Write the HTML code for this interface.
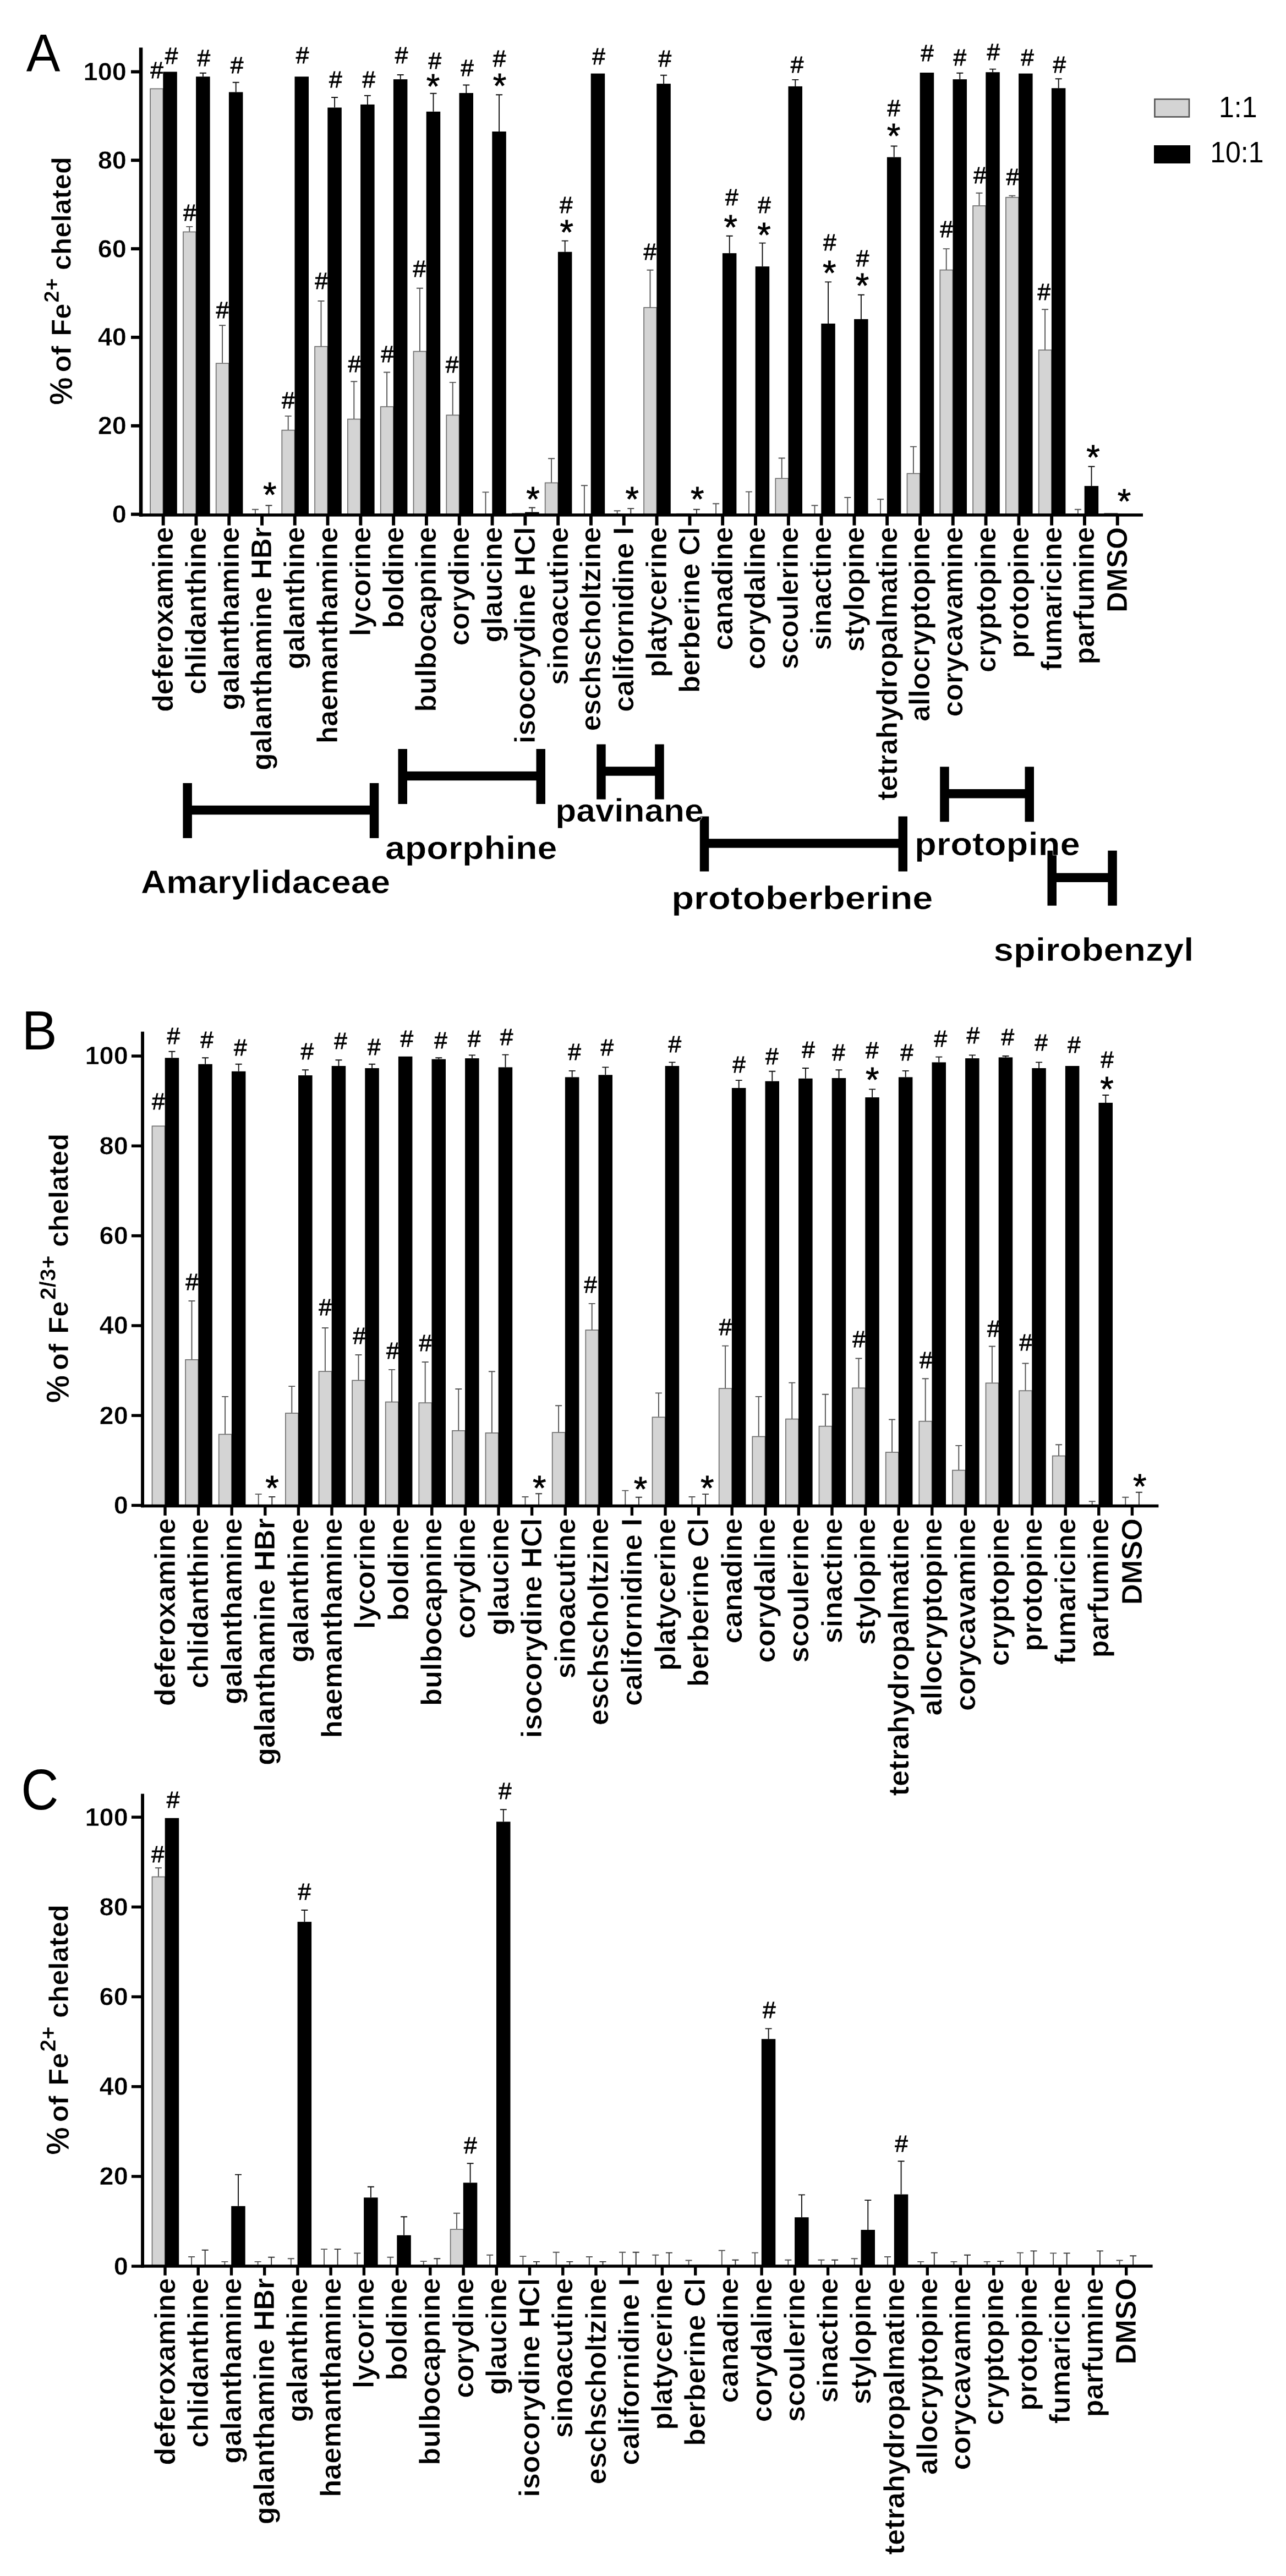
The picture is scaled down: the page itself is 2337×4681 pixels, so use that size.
<!DOCTYPE html>
<html><head><meta charset="utf-8"><title>Figure</title>
<style>html,body{margin:0;padding:0;background:#fff}svg{display:block;filter:blur(0.75px)}text{font-family:'Liberation Sans', sans-serif;fill:#000;font-kerning:none}.b{font-weight:bold;stroke:#fff;stroke-width:0.6px;stroke-linejoin:round}.h{stroke:#000;stroke-width:.8px}</style></head><body>
<svg width="2337" height="4681" viewBox="0 0 2337 4681">
<rect width="2337" height="4681" fill="#fff"/>
<rect x="273.1" y="161.3" width="23.2" height="774.6" fill="#d4d4d4" stroke="#707070" stroke-width="1.7"/>
<rect x="296.3" y="130.4" width="25.5" height="805.5" fill="#000"/>
<rect x="332.9" y="421.4" width="23.2" height="514.5" fill="#d4d4d4" stroke="#707070" stroke-width="1.7"/>
<rect x="356.1" y="139.2" width="25.5" height="796.7" fill="#000"/>
<rect x="392.7" y="660.3" width="23.2" height="275.6" fill="#d4d4d4" stroke="#707070" stroke-width="1.7"/>
<rect x="415.9" y="167.4" width="25.5" height="768.5" fill="#000"/>
<rect x="512.3" y="781.7" width="23.2" height="154.2" fill="#d4d4d4" stroke="#707070" stroke-width="1.7"/>
<rect x="535.5" y="139.2" width="25.5" height="796.7" fill="#000"/>
<rect x="572.1" y="629.7" width="23.2" height="306.2" fill="#d4d4d4" stroke="#707070" stroke-width="1.7"/>
<rect x="595.3" y="195.5" width="25.5" height="740.4" fill="#000"/>
<rect x="631.9" y="761.6" width="23.2" height="174.3" fill="#d4d4d4" stroke="#707070" stroke-width="1.7"/>
<rect x="655.1" y="189.9" width="25.5" height="746.0" fill="#000"/>
<rect x="691.7" y="739.1" width="23.2" height="196.8" fill="#d4d4d4" stroke="#707070" stroke-width="1.7"/>
<rect x="714.9" y="144.1" width="25.5" height="791.8" fill="#000"/>
<rect x="751.5" y="638.6" width="23.2" height="297.3" fill="#d4d4d4" stroke="#707070" stroke-width="1.7"/>
<rect x="774.7" y="202.8" width="25.5" height="733.1" fill="#000"/>
<rect x="811.3" y="754.4" width="23.2" height="181.5" fill="#d4d4d4" stroke="#707070" stroke-width="1.7"/>
<rect x="834.5" y="169.0" width="25.5" height="766.9" fill="#000"/>
<rect x="894.3" y="239.0" width="25.5" height="696.9" fill="#000"/>
<rect x="930.9" y="932.9" width="23.2" height="3.0" fill="#d4d4d4" stroke="#707070" stroke-width="1.7"/>
<rect x="954.1" y="930.6" width="25.5" height="5.3" fill="#000"/>
<rect x="990.7" y="877.4" width="23.2" height="58.5" fill="#d4d4d4" stroke="#707070" stroke-width="1.7"/>
<rect x="1013.9" y="457.7" width="25.5" height="478.2" fill="#000"/>
<rect x="1073.7" y="133.6" width="25.5" height="802.3" fill="#000"/>
<rect x="1170.1" y="558.9" width="23.2" height="377.0" fill="#d4d4d4" stroke="#707070" stroke-width="1.7"/>
<rect x="1193.3" y="152.1" width="25.5" height="783.8" fill="#000"/>
<rect x="1229.9" y="933.7" width="23.2" height="2.2" fill="#d4d4d4" stroke="#707070" stroke-width="1.7"/>
<rect x="1312.9" y="460.1" width="25.5" height="475.8" fill="#000"/>
<rect x="1372.7" y="484.2" width="25.5" height="451.7" fill="#000"/>
<rect x="1409.3" y="869.4" width="23.2" height="66.5" fill="#d4d4d4" stroke="#707070" stroke-width="1.7"/>
<rect x="1432.5" y="156.9" width="25.5" height="779.0" fill="#000"/>
<rect x="1492.3" y="588.0" width="25.5" height="347.9" fill="#000"/>
<rect x="1552.1" y="579.9" width="25.5" height="356.0" fill="#000"/>
<rect x="1611.9" y="285.6" width="25.5" height="650.3" fill="#000"/>
<rect x="1648.5" y="860.5" width="23.2" height="75.4" fill="#d4d4d4" stroke="#707070" stroke-width="1.7"/>
<rect x="1671.7" y="132.0" width="25.5" height="803.9" fill="#000"/>
<rect x="1708.3" y="490.6" width="23.2" height="445.3" fill="#d4d4d4" stroke="#707070" stroke-width="1.7"/>
<rect x="1731.5" y="144.1" width="25.5" height="791.8" fill="#000"/>
<rect x="1768.1" y="374.0" width="23.2" height="561.9" fill="#d4d4d4" stroke="#707070" stroke-width="1.7"/>
<rect x="1791.3" y="131.2" width="25.5" height="804.7" fill="#000"/>
<rect x="1827.9" y="358.7" width="23.2" height="577.2" fill="#d4d4d4" stroke="#707070" stroke-width="1.7"/>
<rect x="1851.1" y="133.6" width="25.5" height="802.3" fill="#000"/>
<rect x="1887.7" y="636.1" width="23.2" height="299.8" fill="#d4d4d4" stroke="#707070" stroke-width="1.7"/>
<rect x="1910.9" y="160.2" width="25.5" height="775.7" fill="#000"/>
<rect x="1970.7" y="883.1" width="25.5" height="52.8" fill="#000"/>
<rect x="2007.3" y="932.9" width="23.2" height="3.0" fill="#d4d4d4" stroke="#707070" stroke-width="1.7"/>
<path d="M344.3 420.7V411.9M338.3 411.9H350.3" stroke="#555" stroke-width="1.9" fill="none"/>
<path d="M368.9 139.2V132.8M362.9 132.8H374.9" stroke="#111" stroke-width="1.9" fill="none"/>
<path d="M404.1 659.6V591.2M398.1 591.2H410.1" stroke="#555" stroke-width="1.9" fill="none"/>
<path d="M428.7 167.4V149.7M422.7 149.7H434.7" stroke="#111" stroke-width="1.9" fill="none"/>
<path d="M463.9 934.6V925.8M457.9 925.8H469.9" stroke="#555" stroke-width="1.9" fill="none"/>
<path d="M488.5 934.6V918.5M482.5 918.5H494.5" stroke="#333" stroke-width="1.9" fill="none"/>
<path d="M523.7 781.0V756.1M517.7 756.1H529.7" stroke="#555" stroke-width="1.9" fill="none"/>
<path d="M583.5 629.0V547.0M577.5 547.0H589.5" stroke="#555" stroke-width="1.9" fill="none"/>
<path d="M608.1 195.5V177.0M602.1 177.0H614.1" stroke="#111" stroke-width="1.9" fill="none"/>
<path d="M643.3 760.9V693.3M637.3 693.3H649.3" stroke="#555" stroke-width="1.9" fill="none"/>
<path d="M667.9 189.9V173.8M661.9 173.8H673.9" stroke="#111" stroke-width="1.9" fill="none"/>
<path d="M703.1 738.4V676.5M697.1 676.5H709.1" stroke="#555" stroke-width="1.9" fill="none"/>
<path d="M727.7 144.1V136.0M721.7 136.0H733.7" stroke="#111" stroke-width="1.9" fill="none"/>
<path d="M762.9 637.9V523.7M756.9 523.7H768.9" stroke="#555" stroke-width="1.9" fill="none"/>
<path d="M787.5 202.8V169.8M781.5 169.8H793.5" stroke="#111" stroke-width="1.9" fill="none"/>
<path d="M822.7 753.7V694.9M816.7 694.9H828.7" stroke="#555" stroke-width="1.9" fill="none"/>
<path d="M847.3 169.0V154.5M841.3 154.5H853.3" stroke="#111" stroke-width="1.9" fill="none"/>
<path d="M882.5 934.6V894.4M876.5 894.4H888.5" stroke="#555" stroke-width="1.9" fill="none"/>
<path d="M907.1 239.0V172.2M901.1 172.2H913.1" stroke="#111" stroke-width="1.9" fill="none"/>
<path d="M966.9 930.6V922.5M960.9 922.5H972.9" stroke="#333" stroke-width="1.9" fill="none"/>
<path d="M1002.1 876.7V833.3M996.1 833.3H1008.1" stroke="#555" stroke-width="1.9" fill="none"/>
<path d="M1026.7 457.7V437.6M1020.7 437.6H1032.7" stroke="#111" stroke-width="1.9" fill="none"/>
<path d="M1061.9 934.6V882.3M1055.9 882.3H1067.9" stroke="#555" stroke-width="1.9" fill="none"/>
<path d="M1121.7 934.6V928.2M1115.7 928.2H1127.7" stroke="#555" stroke-width="1.9" fill="none"/>
<path d="M1146.3 934.6V924.1M1140.3 924.1H1152.3" stroke="#333" stroke-width="1.9" fill="none"/>
<path d="M1181.5 558.2V490.7M1175.5 490.7H1187.5" stroke="#555" stroke-width="1.9" fill="none"/>
<path d="M1206.1 152.1V136.8M1200.1 136.8H1212.1" stroke="#111" stroke-width="1.9" fill="none"/>
<path d="M1265.9 934.6V925.8M1259.9 925.8H1271.9" stroke="#333" stroke-width="1.9" fill="none"/>
<path d="M1301.1 934.6V915.3M1295.1 915.3H1307.1" stroke="#555" stroke-width="1.9" fill="none"/>
<path d="M1325.7 460.1V428.8M1319.7 428.8H1331.7" stroke="#111" stroke-width="1.9" fill="none"/>
<path d="M1360.9 934.6V893.6M1354.9 893.6H1366.9" stroke="#555" stroke-width="1.9" fill="none"/>
<path d="M1385.5 484.2V441.6M1379.5 441.6H1391.5" stroke="#111" stroke-width="1.9" fill="none"/>
<path d="M1420.7 868.7V832.5M1414.7 832.5H1426.7" stroke="#555" stroke-width="1.9" fill="none"/>
<path d="M1445.3 156.9V144.9M1439.3 144.9H1451.3" stroke="#111" stroke-width="1.9" fill="none"/>
<path d="M1480.5 934.6V918.5M1474.5 918.5H1486.5" stroke="#555" stroke-width="1.9" fill="none"/>
<path d="M1505.1 588.0V512.4M1499.1 512.4H1511.1" stroke="#111" stroke-width="1.9" fill="none"/>
<path d="M1540.3 934.6V904.0M1534.3 904.0H1546.3" stroke="#555" stroke-width="1.9" fill="none"/>
<path d="M1564.9 579.9V535.7M1558.9 535.7H1570.9" stroke="#111" stroke-width="1.9" fill="none"/>
<path d="M1600.1 934.6V907.3M1594.1 907.3H1606.1" stroke="#555" stroke-width="1.9" fill="none"/>
<path d="M1624.7 285.6V265.5M1618.7 265.5H1630.7" stroke="#111" stroke-width="1.9" fill="none"/>
<path d="M1659.9 859.8V811.6M1653.9 811.6H1665.9" stroke="#555" stroke-width="1.9" fill="none"/>
<path d="M1719.7 489.9V452.1M1713.7 452.1H1725.7" stroke="#555" stroke-width="1.9" fill="none"/>
<path d="M1744.3 144.1V132.8M1738.3 132.8H1750.3" stroke="#111" stroke-width="1.9" fill="none"/>
<path d="M1779.5 373.3V350.8M1773.5 350.8H1785.5" stroke="#555" stroke-width="1.9" fill="none"/>
<path d="M1804.1 131.2V125.6M1798.1 125.6H1810.1" stroke="#111" stroke-width="1.9" fill="none"/>
<path d="M1839.3 358.0V355.6M1833.3 355.6H1845.3" stroke="#555" stroke-width="1.9" fill="none"/>
<path d="M1899.1 635.4V562.3M1893.1 562.3H1905.1" stroke="#555" stroke-width="1.9" fill="none"/>
<path d="M1923.7 160.2V143.3M1917.7 143.3H1929.7" stroke="#111" stroke-width="1.9" fill="none"/>
<path d="M1958.9 934.6V925.8M1952.9 925.8H1964.9" stroke="#555" stroke-width="1.9" fill="none"/>
<path d="M1983.5 883.1V847.7M1977.5 847.7H1989.5" stroke="#111" stroke-width="1.9" fill="none"/>
<rect x="252.8" y="86.5" width="6.5" height="852.1" fill="#000"/>
<rect x="252.8" y="933.1" width="1824.2" height="5.5" fill="#000"/>
<rect x="238.0" y="931.6" width="18.0" height="5.9" fill="#000"/>
<text x="230.0" y="950.0" font-size="47" class="b" text-anchor="end">0</text>
<rect x="238.0" y="770.8" width="18.0" height="5.9" fill="#000"/>
<text x="230.0" y="789.2" font-size="47" class="b" text-anchor="end">20</text>
<rect x="238.0" y="610.0" width="18.0" height="5.9" fill="#000"/>
<text x="230.0" y="628.3" font-size="47" class="b" text-anchor="end">40</text>
<rect x="238.0" y="449.1" width="18.0" height="5.9" fill="#000"/>
<text x="230.0" y="467.5" font-size="47" class="b" text-anchor="end">60</text>
<rect x="238.0" y="288.3" width="18.0" height="5.9" fill="#000"/>
<text x="230.0" y="306.7" font-size="47" class="b" text-anchor="end">80</text>
<rect x="238.0" y="127.5" width="18.0" height="5.9" fill="#000"/>
<text x="230.0" y="145.8" font-size="47" class="b" text-anchor="end">100</text>
<rect x="293.7" y="935.9" width="5.9" height="18.9" fill="#000"/>
<text transform="translate(313.9 957.7) rotate(-90)" font-size="51.7" class="b" text-anchor="end">deferoxamine</text>
<rect x="353.5" y="935.9" width="5.9" height="18.9" fill="#000"/>
<text transform="translate(373.7 957.7) rotate(-90)" font-size="51.7" class="b" text-anchor="end">chlidanthine</text>
<rect x="413.3" y="935.9" width="5.9" height="18.9" fill="#000"/>
<text transform="translate(433.5 957.7) rotate(-90)" font-size="51.7" class="b" text-anchor="end">galanthamine</text>
<rect x="473.1" y="935.9" width="5.9" height="18.9" fill="#000"/>
<text transform="translate(493.3 957.7) rotate(-90)" font-size="51.7" class="b" text-anchor="end">galanthamine HBr</text>
<rect x="532.8" y="935.9" width="5.9" height="18.9" fill="#000"/>
<text transform="translate(553.1 957.7) rotate(-90)" font-size="51.7" class="b" text-anchor="end">galanthine</text>
<rect x="592.6" y="935.9" width="5.9" height="18.9" fill="#000"/>
<text transform="translate(612.9 957.7) rotate(-90)" font-size="51.7" class="b" text-anchor="end">haemanthamine</text>
<rect x="652.4" y="935.9" width="5.9" height="18.9" fill="#000"/>
<text transform="translate(672.7 957.7) rotate(-90)" font-size="51.7" class="b" text-anchor="end">lycorine</text>
<rect x="712.2" y="935.9" width="5.9" height="18.9" fill="#000"/>
<text transform="translate(732.5 957.7) rotate(-90)" font-size="51.7" class="b" text-anchor="end">boldine</text>
<rect x="772.0" y="935.9" width="5.9" height="18.9" fill="#000"/>
<text transform="translate(792.3 957.7) rotate(-90)" font-size="51.7" class="b" text-anchor="end">bulbocapnine</text>
<rect x="831.8" y="935.9" width="5.9" height="18.9" fill="#000"/>
<text transform="translate(852.1 957.7) rotate(-90)" font-size="51.7" class="b" text-anchor="end">corydine</text>
<rect x="891.6" y="935.9" width="5.9" height="18.9" fill="#000"/>
<text transform="translate(911.9 957.7) rotate(-90)" font-size="51.7" class="b" text-anchor="end">glaucine</text>
<rect x="951.4" y="935.9" width="5.9" height="18.9" fill="#000"/>
<text transform="translate(971.7 957.7) rotate(-90)" font-size="51.7" class="b" text-anchor="end">isocorydine HCl</text>
<rect x="1011.2" y="935.9" width="5.9" height="18.9" fill="#000"/>
<text transform="translate(1031.5 957.7) rotate(-90)" font-size="51.7" class="b" text-anchor="end">sinoacutine</text>
<rect x="1071.0" y="935.9" width="5.9" height="18.9" fill="#000"/>
<text transform="translate(1091.3 957.7) rotate(-90)" font-size="51.7" class="b" text-anchor="end">eschscholtzine</text>
<rect x="1130.8" y="935.9" width="5.9" height="18.9" fill="#000"/>
<text transform="translate(1151.1 957.7) rotate(-90)" font-size="51.7" class="b" text-anchor="end">californidine I</text>
<rect x="1190.6" y="935.9" width="5.9" height="18.9" fill="#000"/>
<text transform="translate(1210.9 957.7) rotate(-90)" font-size="51.7" class="b" text-anchor="end">platycerine</text>
<rect x="1250.5" y="935.9" width="5.9" height="18.9" fill="#000"/>
<text transform="translate(1270.7 957.7) rotate(-90)" font-size="51.7" class="b" text-anchor="end">berberine Cl</text>
<rect x="1310.2" y="935.9" width="5.9" height="18.9" fill="#000"/>
<text transform="translate(1330.5 957.7) rotate(-90)" font-size="51.7" class="b" text-anchor="end">canadine</text>
<rect x="1370.0" y="935.9" width="5.9" height="18.9" fill="#000"/>
<text transform="translate(1390.3 957.7) rotate(-90)" font-size="51.7" class="b" text-anchor="end">corydaline</text>
<rect x="1429.9" y="935.9" width="5.9" height="18.9" fill="#000"/>
<text transform="translate(1450.1 957.7) rotate(-90)" font-size="51.7" class="b" text-anchor="end">scoulerine</text>
<rect x="1489.6" y="935.9" width="5.9" height="18.9" fill="#000"/>
<text transform="translate(1509.9 957.7) rotate(-90)" font-size="51.7" class="b" text-anchor="end">sinactine</text>
<rect x="1549.5" y="935.9" width="5.9" height="18.9" fill="#000"/>
<text transform="translate(1569.7 957.7) rotate(-90)" font-size="51.7" class="b" text-anchor="end">stylopine</text>
<rect x="1609.2" y="935.9" width="5.9" height="18.9" fill="#000"/>
<text transform="translate(1629.5 957.7) rotate(-90)" font-size="51.7" class="b" text-anchor="end">tetrahydropalmatine</text>
<rect x="1669.0" y="935.9" width="5.9" height="18.9" fill="#000"/>
<text transform="translate(1689.3 957.7) rotate(-90)" font-size="51.7" class="b" text-anchor="end">allocryptopine</text>
<rect x="1728.8" y="935.9" width="5.9" height="18.9" fill="#000"/>
<text transform="translate(1749.1 957.7) rotate(-90)" font-size="51.7" class="b" text-anchor="end">corycavamine</text>
<rect x="1788.6" y="935.9" width="5.9" height="18.9" fill="#000"/>
<text transform="translate(1808.9 957.7) rotate(-90)" font-size="51.7" class="b" text-anchor="end">cryptopine</text>
<rect x="1848.5" y="935.9" width="5.9" height="18.9" fill="#000"/>
<text transform="translate(1868.7 957.7) rotate(-90)" font-size="51.7" class="b" text-anchor="end">protopine</text>
<rect x="1908.2" y="935.9" width="5.9" height="18.9" fill="#000"/>
<text transform="translate(1928.5 957.7) rotate(-90)" font-size="51.7" class="b" text-anchor="end">fumaricine</text>
<rect x="1968.0" y="935.9" width="5.9" height="18.9" fill="#000"/>
<text transform="translate(1988.3 957.7) rotate(-90)" font-size="51.7" class="b" text-anchor="end">parfumine</text>
<rect x="2027.8" y="935.9" width="5.9" height="18.9" fill="#000"/>
<text transform="translate(2048.1 957.7) rotate(-90)" font-size="51.7" class="b" text-anchor="end">DMSO</text>
<text x="285.0" y="142.0" font-size="42.5" text-anchor="middle" class="h">#</text>
<text x="311.6" y="116.3" font-size="42.5" text-anchor="middle" class="h">#</text>
<text x="344.7" y="401.0" font-size="42.5" text-anchor="middle" class="h">#</text>
<text x="370.4" y="120.0" font-size="42.5" text-anchor="middle" class="h">#</text>
<text x="404.4" y="578.2" font-size="42.5" text-anchor="middle" class="h">#</text>
<text x="430.6" y="132.7" font-size="42.5" text-anchor="middle" class="h">#</text>
<text x="523.9" y="741.5" font-size="42.5" text-anchor="middle" class="h">#</text>
<text x="549.5" y="115.4" font-size="42.5" text-anchor="middle" class="h">#</text>
<text x="584.0" y="524.6" font-size="42.5" text-anchor="middle" class="h">#</text>
<text x="609.7" y="159.3" font-size="42.5" text-anchor="middle" class="h">#</text>
<text x="644.2" y="676.2" font-size="42.5" text-anchor="middle" class="h">#</text>
<text x="670.4" y="159.3" font-size="42.5" text-anchor="middle" class="h">#</text>
<text x="704.0" y="657.5" font-size="42.5" text-anchor="middle" class="h">#</text>
<text x="729.6" y="115.4" font-size="42.5" text-anchor="middle" class="h">#</text>
<text x="762.3" y="502.6" font-size="42.5" text-anchor="middle" class="h">#</text>
<text x="790.3" y="124.7" font-size="42.5" text-anchor="middle" class="h">#</text>
<text x="821.5" y="677.1" font-size="42.5" text-anchor="middle" class="h">#</text>
<text x="849.1" y="138.3" font-size="42.5" text-anchor="middle" class="h">#</text>
<text x="907.5" y="121.0" font-size="42.5" text-anchor="middle" class="h">#</text>
<text x="1028.8" y="386.9" font-size="42.5" text-anchor="middle" class="h">#</text>
<text x="1088.0" y="117.3" font-size="42.5" text-anchor="middle" class="h">#</text>
<text x="1181.3" y="472.3" font-size="42.5" text-anchor="middle" class="h">#</text>
<text x="1208.4" y="121.0" font-size="42.5" text-anchor="middle" class="h">#</text>
<text x="1329.7" y="373.0" font-size="42.5" text-anchor="middle" class="h">#</text>
<text x="1389.0" y="386.9" font-size="42.5" text-anchor="middle" class="h">#</text>
<text x="1448.5" y="132.2" font-size="42.5" text-anchor="middle" class="h">#</text>
<text x="1507.8" y="454.6" font-size="42.5" text-anchor="middle" class="h">#</text>
<text x="1567.5" y="484.0" font-size="42.5" text-anchor="middle" class="h">#</text>
<text x="1624.4" y="210.6" font-size="42.5" text-anchor="middle" class="h">#</text>
<text x="1685.0" y="110.7" font-size="42.5" text-anchor="middle" class="h">#</text>
<text x="1720.0" y="431.3" font-size="42.5" text-anchor="middle" class="h">#</text>
<text x="1744.3" y="118.7" font-size="42.5" text-anchor="middle" class="h">#</text>
<text x="1780.7" y="333.3" font-size="42.5" text-anchor="middle" class="h">#</text>
<text x="1805.4" y="109.3" font-size="42.5" text-anchor="middle" class="h">#</text>
<text x="1840.4" y="335.6" font-size="42.5" text-anchor="middle" class="h">#</text>
<text x="1867.0" y="118.7" font-size="42.5" text-anchor="middle" class="h">#</text>
<text x="1897.4" y="544.6" font-size="42.5" text-anchor="middle" class="h">#</text>
<text x="1925.4" y="131.5" font-size="42.5" text-anchor="middle" class="h">#</text>
<text x="490.3" y="919.5" font-size="63" text-anchor="middle" class="h">*</text>
<text x="787.0" y="177.7" font-size="63" text-anchor="middle" class="h">*</text>
<text x="907.9" y="177.3" font-size="63" text-anchor="middle" class="h">*</text>
<text x="968.6" y="927.5" font-size="63" text-anchor="middle" class="h">*</text>
<text x="1029.7" y="443.2" font-size="63" text-anchor="middle" class="h">*</text>
<text x="1148.7" y="927.5" font-size="63" text-anchor="middle" class="h">*</text>
<text x="1267.2" y="927.5" font-size="63" text-anchor="middle" class="h">*</text>
<text x="1327.8" y="433.9" font-size="63" text-anchor="middle" class="h">*</text>
<text x="1388.5" y="447.9" font-size="63" text-anchor="middle" class="h">*</text>
<text x="1507.3" y="516.9" font-size="63" text-anchor="middle" class="h">*</text>
<text x="1567.0" y="540.2" font-size="63" text-anchor="middle" class="h">*</text>
<text x="1624.0" y="268.2" font-size="63" text-anchor="middle" class="h">*</text>
<text x="1986.4" y="852.4" font-size="63" text-anchor="middle" class="h">*</text>
<text x="2043.1" y="932.3" font-size="63" text-anchor="middle" class="h">*</text>
<text transform="translate(129.1 735.8) rotate(-90)" font-size="50.8" class="b"><tspan x="-0.2" dy="1.5" font-size="56.9">%</tspan><tspan x="59.3" dy="-1.5">of</tspan><tspan x="125.0">Fe</tspan><tspan x="185.8" dy="-22.5" font-size="39">2+</tspan><tspan x="244.7" dy="22.5">chelated</tspan></text>
<text transform="translate(47.8 129.4) scale(0.953 1)" font-size="97">A</text>
<rect x="2098.4" y="180.2" width="62.6" height="32.2" fill="#d4d4d4" stroke="#555" stroke-width="2.6"/>
<rect x="2097" y="264" width="66" height="33" fill="#000"/>
<text transform="translate(2284.5 213.2) scale(0.943 1)" font-size="53" text-anchor="end">1:1</text>
<text transform="translate(2296.5 295) scale(0.943 1)" font-size="53" text-anchor="end">10:1</text>
<rect x="332.4" y="1423.0" width="16.5" height="100" fill="#000"/>
<rect x="671.8" y="1423.0" width="16.5" height="100" fill="#000"/>
<rect x="340.6" y="1463.8" width="339.4" height="16.5" fill="#000"/>
<rect x="723.5" y="1361.0" width="16.5" height="100" fill="#000"/>
<rect x="974.5" y="1361.0" width="16.5" height="100" fill="#000"/>
<rect x="731.7" y="1401.8" width="251.0" height="16.5" fill="#000"/>
<rect x="1084.2" y="1352.5" width="16.5" height="100" fill="#000"/>
<rect x="1190.2" y="1352.5" width="16.5" height="100" fill="#000"/>
<rect x="1092.4" y="1393.2" width="106.0" height="16.5" fill="#000"/>
<rect x="1271.8" y="1483.5" width="16.5" height="100" fill="#000"/>
<rect x="1632.5" y="1483.5" width="16.5" height="100" fill="#000"/>
<rect x="1280.0" y="1524.2" width="360.8" height="16.5" fill="#000"/>
<rect x="1708.2" y="1393.3" width="16.5" height="100" fill="#000"/>
<rect x="1862.5" y="1393.3" width="16.5" height="100" fill="#000"/>
<rect x="1716.5" y="1434.0" width="154.3" height="16.5" fill="#000"/>
<rect x="1903.5" y="1545.7" width="16.5" height="100" fill="#000"/>
<rect x="2013.3" y="1545.7" width="16.5" height="100" fill="#000"/>
<rect x="1911.8" y="1586.5" width="109.8" height="16.5" fill="#000"/>
<text x="256.0" y="1622.9" font-size="60" class="b" textLength="453.1" lengthAdjust="spacingAndGlyphs">Amarylidaceae</text>
<text x="699.9" y="1561.4" font-size="60" class="b" textLength="312.5" lengthAdjust="spacingAndGlyphs">aporphine</text>
<text x="1009.2" y="1493.2" font-size="60" class="b" textLength="269.4" lengthAdjust="spacingAndGlyphs">pavinane</text>
<text x="1220.2" y="1651.5" font-size="60" class="b" textLength="475.3" lengthAdjust="spacingAndGlyphs">protoberberine</text>
<text x="1662.0" y="1553.5" font-size="60" class="b" textLength="300.7" lengthAdjust="spacingAndGlyphs">protopine</text>
<text x="1805.4" y="1746.0" font-size="60" class="b" textLength="364.1" lengthAdjust="spacingAndGlyphs">spirobenzyl</text>
<rect x="276.5" y="2046.3" width="23.2" height="690.2" fill="#d4d4d4" stroke="#707070" stroke-width="1.7"/>
<rect x="299.7" y="1922.3" width="25.5" height="814.2" fill="#000"/>
<rect x="337.1" y="2470.8" width="23.2" height="265.7" fill="#d4d4d4" stroke="#707070" stroke-width="1.7"/>
<rect x="360.3" y="1933.7" width="25.5" height="802.8" fill="#000"/>
<rect x="397.7" y="2606.4" width="23.2" height="130.1" fill="#d4d4d4" stroke="#707070" stroke-width="1.7"/>
<rect x="420.9" y="1946.8" width="25.5" height="789.7" fill="#000"/>
<rect x="518.9" y="2568.0" width="23.2" height="168.5" fill="#d4d4d4" stroke="#707070" stroke-width="1.7"/>
<rect x="542.1" y="1954.1" width="25.5" height="782.4" fill="#000"/>
<rect x="579.5" y="2492.1" width="23.2" height="244.4" fill="#d4d4d4" stroke="#707070" stroke-width="1.7"/>
<rect x="602.7" y="1937.0" width="25.5" height="799.5" fill="#000"/>
<rect x="640.1" y="2508.4" width="23.2" height="228.1" fill="#d4d4d4" stroke="#707070" stroke-width="1.7"/>
<rect x="663.3" y="1941.0" width="25.5" height="795.5" fill="#000"/>
<rect x="700.7" y="2547.6" width="23.2" height="188.9" fill="#d4d4d4" stroke="#707070" stroke-width="1.7"/>
<rect x="723.9" y="1919.8" width="25.5" height="816.7" fill="#000"/>
<rect x="761.3" y="2549.2" width="23.2" height="187.3" fill="#d4d4d4" stroke="#707070" stroke-width="1.7"/>
<rect x="784.5" y="1924.7" width="25.5" height="811.8" fill="#000"/>
<rect x="821.9" y="2599.8" width="23.2" height="136.7" fill="#d4d4d4" stroke="#707070" stroke-width="1.7"/>
<rect x="845.1" y="1923.1" width="25.5" height="813.4" fill="#000"/>
<rect x="882.5" y="2603.9" width="23.2" height="132.6" fill="#d4d4d4" stroke="#707070" stroke-width="1.7"/>
<rect x="905.7" y="1939.4" width="25.5" height="797.1" fill="#000"/>
<rect x="1003.7" y="2603.1" width="23.2" height="133.4" fill="#d4d4d4" stroke="#707070" stroke-width="1.7"/>
<rect x="1026.9" y="1957.4" width="25.5" height="779.1" fill="#000"/>
<rect x="1064.3" y="2416.9" width="23.2" height="319.6" fill="#d4d4d4" stroke="#707070" stroke-width="1.7"/>
<rect x="1087.5" y="1953.3" width="25.5" height="783.2" fill="#000"/>
<rect x="1185.5" y="2575.3" width="23.2" height="161.2" fill="#d4d4d4" stroke="#707070" stroke-width="1.7"/>
<rect x="1208.7" y="1937.0" width="25.5" height="799.5" fill="#000"/>
<rect x="1306.7" y="2523.1" width="23.2" height="213.4" fill="#d4d4d4" stroke="#707070" stroke-width="1.7"/>
<rect x="1329.9" y="1977.0" width="25.5" height="759.5" fill="#000"/>
<rect x="1367.3" y="2610.5" width="23.2" height="126.0" fill="#d4d4d4" stroke="#707070" stroke-width="1.7"/>
<rect x="1390.5" y="1964.7" width="25.5" height="771.8" fill="#000"/>
<rect x="1427.9" y="2578.6" width="23.2" height="157.9" fill="#d4d4d4" stroke="#707070" stroke-width="1.7"/>
<rect x="1451.1" y="1959.8" width="25.5" height="776.7" fill="#000"/>
<rect x="1488.5" y="2591.7" width="23.2" height="144.8" fill="#d4d4d4" stroke="#707070" stroke-width="1.7"/>
<rect x="1511.7" y="1959.0" width="25.5" height="777.5" fill="#000"/>
<rect x="1549.1" y="2522.3" width="23.2" height="214.2" fill="#d4d4d4" stroke="#707070" stroke-width="1.7"/>
<rect x="1572.3" y="1994.1" width="25.5" height="742.4" fill="#000"/>
<rect x="1609.7" y="2639.0" width="23.2" height="97.5" fill="#d4d4d4" stroke="#707070" stroke-width="1.7"/>
<rect x="1632.9" y="1957.4" width="25.5" height="779.1" fill="#000"/>
<rect x="1670.3" y="2582.7" width="23.2" height="153.8" fill="#d4d4d4" stroke="#707070" stroke-width="1.7"/>
<rect x="1693.5" y="1930.4" width="25.5" height="806.1" fill="#000"/>
<rect x="1730.9" y="2671.7" width="23.2" height="64.8" fill="#d4d4d4" stroke="#707070" stroke-width="1.7"/>
<rect x="1754.1" y="1923.1" width="25.5" height="813.4" fill="#000"/>
<rect x="1791.5" y="2513.3" width="23.2" height="223.2" fill="#d4d4d4" stroke="#707070" stroke-width="1.7"/>
<rect x="1814.7" y="1921.4" width="25.5" height="815.1" fill="#000"/>
<rect x="1852.1" y="2527.2" width="23.2" height="209.3" fill="#d4d4d4" stroke="#707070" stroke-width="1.7"/>
<rect x="1875.3" y="1941.0" width="25.5" height="795.5" fill="#000"/>
<rect x="1912.7" y="2645.6" width="23.2" height="90.9" fill="#d4d4d4" stroke="#707070" stroke-width="1.7"/>
<rect x="1935.9" y="1937.0" width="25.5" height="799.5" fill="#000"/>
<rect x="1996.5" y="2003.9" width="25.5" height="732.6" fill="#000"/>
<path d="M312.5 1922.3V1910.8M306.5 1910.8H318.5" stroke="#111" stroke-width="1.9" fill="none"/>
<path d="M348.5 2470.1V2364.0M342.5 2364.0H354.5" stroke="#555" stroke-width="1.9" fill="none"/>
<path d="M373.1 1933.7V1922.3M367.1 1922.3H379.1" stroke="#111" stroke-width="1.9" fill="none"/>
<path d="M409.1 2605.7V2537.9M403.1 2537.9H415.1" stroke="#555" stroke-width="1.9" fill="none"/>
<path d="M433.7 1946.8V1933.7M427.7 1933.7H439.7" stroke="#111" stroke-width="1.9" fill="none"/>
<path d="M469.7 2735.5V2715.1M463.7 2715.1H475.7" stroke="#555" stroke-width="1.9" fill="none"/>
<path d="M494.3 2735.5V2720.0M488.3 2720.0H500.3" stroke="#333" stroke-width="1.9" fill="none"/>
<path d="M530.3 2567.3V2519.1M524.3 2519.1H536.3" stroke="#555" stroke-width="1.9" fill="none"/>
<path d="M554.9 1954.1V1944.3M548.9 1944.3H560.9" stroke="#111" stroke-width="1.9" fill="none"/>
<path d="M590.9 2491.4V2413.0M584.9 2413.0H596.9" stroke="#555" stroke-width="1.9" fill="none"/>
<path d="M615.5 1937.0V1926.3M609.5 1926.3H621.5" stroke="#111" stroke-width="1.9" fill="none"/>
<path d="M651.5 2507.7V2462.0M645.5 2462.0H657.5" stroke="#555" stroke-width="1.9" fill="none"/>
<path d="M676.1 1941.0V1933.7M670.1 1933.7H682.1" stroke="#111" stroke-width="1.9" fill="none"/>
<path d="M712.1 2546.9V2488.9M706.1 2488.9H718.1" stroke="#555" stroke-width="1.9" fill="none"/>
<path d="M772.7 2548.5V2475.0M766.7 2475.0H778.7" stroke="#555" stroke-width="1.9" fill="none"/>
<path d="M797.3 1924.7V1922.3M791.3 1922.3H803.3" stroke="#111" stroke-width="1.9" fill="none"/>
<path d="M833.3 2599.1V2524.0M827.3 2524.0H839.3" stroke="#555" stroke-width="1.9" fill="none"/>
<path d="M857.9 1923.1V1917.4M851.9 1917.4H863.9" stroke="#111" stroke-width="1.9" fill="none"/>
<path d="M893.9 2603.2V2492.2M887.9 2492.2H899.9" stroke="#555" stroke-width="1.9" fill="none"/>
<path d="M918.5 1939.4V1916.6M912.5 1916.6H924.5" stroke="#111" stroke-width="1.9" fill="none"/>
<path d="M954.5 2735.5V2720.0M948.5 2720.0H960.5" stroke="#555" stroke-width="1.9" fill="none"/>
<path d="M979.1 2735.5V2714.3M973.1 2714.3H985.1" stroke="#333" stroke-width="1.9" fill="none"/>
<path d="M1015.1 2602.4V2554.2M1009.1 2554.2H1021.1" stroke="#555" stroke-width="1.9" fill="none"/>
<path d="M1039.7 1957.4V1945.9M1033.7 1945.9H1045.7" stroke="#111" stroke-width="1.9" fill="none"/>
<path d="M1075.7 2416.2V2368.9M1069.7 2368.9H1081.7" stroke="#555" stroke-width="1.9" fill="none"/>
<path d="M1100.3 1953.3V1939.4M1094.3 1939.4H1106.3" stroke="#111" stroke-width="1.9" fill="none"/>
<path d="M1136.3 2735.5V2708.6M1130.3 2708.6H1142.3" stroke="#555" stroke-width="1.9" fill="none"/>
<path d="M1160.9 2735.5V2720.8M1154.9 2720.8H1166.9" stroke="#333" stroke-width="1.9" fill="none"/>
<path d="M1196.9 2574.6V2531.4M1190.9 2531.4H1202.9" stroke="#555" stroke-width="1.9" fill="none"/>
<path d="M1221.5 1937.0V1930.4M1215.5 1930.4H1227.5" stroke="#111" stroke-width="1.9" fill="none"/>
<path d="M1257.5 2735.5V2720.0M1251.5 2720.0H1263.5" stroke="#555" stroke-width="1.9" fill="none"/>
<path d="M1282.1 2735.5V2715.1M1276.1 2715.1H1288.1" stroke="#333" stroke-width="1.9" fill="none"/>
<path d="M1318.1 2522.4V2445.6M1312.1 2445.6H1324.1" stroke="#555" stroke-width="1.9" fill="none"/>
<path d="M1342.7 1977.0V1963.1M1336.7 1963.1H1348.7" stroke="#111" stroke-width="1.9" fill="none"/>
<path d="M1378.7 2609.8V2537.9M1372.7 2537.9H1384.7" stroke="#555" stroke-width="1.9" fill="none"/>
<path d="M1403.3 1964.7V1946.8M1397.3 1946.8H1409.3" stroke="#111" stroke-width="1.9" fill="none"/>
<path d="M1439.3 2577.9V2512.6M1433.3 2512.6H1445.3" stroke="#555" stroke-width="1.9" fill="none"/>
<path d="M1463.9 1959.8V1941.0M1457.9 1941.0H1469.9" stroke="#111" stroke-width="1.9" fill="none"/>
<path d="M1499.9 2591.0V2533.8M1493.9 2533.8H1505.9" stroke="#555" stroke-width="1.9" fill="none"/>
<path d="M1524.5 1959.0V1944.3M1518.5 1944.3H1530.5" stroke="#111" stroke-width="1.9" fill="none"/>
<path d="M1560.5 2521.6V2468.5M1554.5 2468.5H1566.5" stroke="#555" stroke-width="1.9" fill="none"/>
<path d="M1585.1 1994.1V1979.4M1579.1 1979.4H1591.1" stroke="#111" stroke-width="1.9" fill="none"/>
<path d="M1621.1 2638.3V2579.5M1615.1 2579.5H1627.1" stroke="#555" stroke-width="1.9" fill="none"/>
<path d="M1645.7 1957.4V1945.9M1639.7 1945.9H1651.7" stroke="#111" stroke-width="1.9" fill="none"/>
<path d="M1681.7 2582.0V2505.2M1675.7 2505.2H1687.7" stroke="#555" stroke-width="1.9" fill="none"/>
<path d="M1706.3 1930.4V1920.6M1700.3 1920.6H1712.3" stroke="#111" stroke-width="1.9" fill="none"/>
<path d="M1742.3 2671.0V2626.9M1736.3 2626.9H1748.3" stroke="#555" stroke-width="1.9" fill="none"/>
<path d="M1766.9 1923.1V1917.4M1760.9 1917.4H1772.9" stroke="#111" stroke-width="1.9" fill="none"/>
<path d="M1802.9 2512.6V2446.5M1796.9 2446.5H1808.9" stroke="#555" stroke-width="1.9" fill="none"/>
<path d="M1827.5 1921.4V1919.0M1821.5 1919.0H1833.5" stroke="#111" stroke-width="1.9" fill="none"/>
<path d="M1863.5 2526.5V2477.5M1857.5 2477.5H1869.5" stroke="#555" stroke-width="1.9" fill="none"/>
<path d="M1888.1 1941.0V1930.4M1882.1 1930.4H1894.1" stroke="#111" stroke-width="1.9" fill="none"/>
<path d="M1924.1 2644.9V2625.3M1918.1 2625.3H1930.1" stroke="#555" stroke-width="1.9" fill="none"/>
<path d="M1984.7 2735.5V2728.2M1978.7 2728.2H1990.7" stroke="#555" stroke-width="1.9" fill="none"/>
<path d="M2009.3 2003.9V1990.0M2003.3 1990.0H2015.3" stroke="#111" stroke-width="1.9" fill="none"/>
<path d="M2045.3 2735.5V2720.8M2039.3 2720.8H2051.3" stroke="#555" stroke-width="1.9" fill="none"/>
<path d="M2069.9 2735.5V2711.8M2063.9 2711.8H2075.9" stroke="#333" stroke-width="1.9" fill="none"/>
<rect x="256.1" y="1874.7" width="5.9" height="864.5" fill="#000"/>
<rect x="256.1" y="2733.8" width="1849.3" height="5.5" fill="#000"/>
<rect x="238.9" y="2732.8" width="20.1" height="5.4" fill="#000"/>
<text x="232.8" y="2750.9" font-size="47" class="b" text-anchor="end">0</text>
<rect x="238.9" y="2569.5" width="20.1" height="5.4" fill="#000"/>
<text x="232.8" y="2587.6" font-size="47" class="b" text-anchor="end">20</text>
<rect x="238.9" y="2406.2" width="20.1" height="5.4" fill="#000"/>
<text x="232.8" y="2424.3" font-size="47" class="b" text-anchor="end">40</text>
<rect x="238.9" y="2242.9" width="20.1" height="5.4" fill="#000"/>
<text x="232.8" y="2261.0" font-size="47" class="b" text-anchor="end">60</text>
<rect x="238.9" y="2079.6" width="20.1" height="5.4" fill="#000"/>
<text x="232.8" y="2097.7" font-size="47" class="b" text-anchor="end">80</text>
<rect x="238.9" y="1916.3" width="20.1" height="5.4" fill="#000"/>
<text x="232.8" y="1934.4" font-size="47" class="b" text-anchor="end">100</text>
<rect x="297.3" y="2736.5" width="5.4" height="17.5" fill="#000"/>
<text transform="translate(317.6 2758.8) rotate(-90)" font-size="52.5" class="b" text-anchor="end">deferoxamine</text>
<rect x="357.9" y="2736.5" width="5.4" height="17.5" fill="#000"/>
<text transform="translate(378.2 2758.8) rotate(-90)" font-size="52.5" class="b" text-anchor="end">chlidanthine</text>
<rect x="418.5" y="2736.5" width="5.4" height="17.5" fill="#000"/>
<text transform="translate(438.8 2758.8) rotate(-90)" font-size="52.5" class="b" text-anchor="end">galanthamine</text>
<rect x="479.1" y="2736.5" width="5.4" height="17.5" fill="#000"/>
<text transform="translate(499.4 2758.8) rotate(-90)" font-size="52.5" class="b" text-anchor="end">galanthamine HBr</text>
<rect x="539.7" y="2736.5" width="5.4" height="17.5" fill="#000"/>
<text transform="translate(560.0 2758.8) rotate(-90)" font-size="52.5" class="b" text-anchor="end">galanthine</text>
<rect x="600.3" y="2736.5" width="5.4" height="17.5" fill="#000"/>
<text transform="translate(620.6 2758.8) rotate(-90)" font-size="52.5" class="b" text-anchor="end">haemanthamine</text>
<rect x="660.9" y="2736.5" width="5.4" height="17.5" fill="#000"/>
<text transform="translate(681.2 2758.8) rotate(-90)" font-size="52.5" class="b" text-anchor="end">lycorine</text>
<rect x="721.5" y="2736.5" width="5.4" height="17.5" fill="#000"/>
<text transform="translate(741.8 2758.8) rotate(-90)" font-size="52.5" class="b" text-anchor="end">boldine</text>
<rect x="782.1" y="2736.5" width="5.4" height="17.5" fill="#000"/>
<text transform="translate(802.4 2758.8) rotate(-90)" font-size="52.5" class="b" text-anchor="end">bulbocapnine</text>
<rect x="842.7" y="2736.5" width="5.4" height="17.5" fill="#000"/>
<text transform="translate(863.0 2758.8) rotate(-90)" font-size="52.5" class="b" text-anchor="end">corydine</text>
<rect x="903.3" y="2736.5" width="5.4" height="17.5" fill="#000"/>
<text transform="translate(923.6 2758.8) rotate(-90)" font-size="52.5" class="b" text-anchor="end">glaucine</text>
<rect x="963.9" y="2736.5" width="5.4" height="17.5" fill="#000"/>
<text transform="translate(984.2 2758.8) rotate(-90)" font-size="52.5" class="b" text-anchor="end">isocorydine HCl</text>
<rect x="1024.5" y="2736.5" width="5.4" height="17.5" fill="#000"/>
<text transform="translate(1044.8 2758.8) rotate(-90)" font-size="52.5" class="b" text-anchor="end">sinoacutine</text>
<rect x="1085.1" y="2736.5" width="5.4" height="17.5" fill="#000"/>
<text transform="translate(1105.4 2758.8) rotate(-90)" font-size="52.5" class="b" text-anchor="end">eschscholtzine</text>
<rect x="1145.7" y="2736.5" width="5.4" height="17.5" fill="#000"/>
<text transform="translate(1166.0 2758.8) rotate(-90)" font-size="52.5" class="b" text-anchor="end">californidine I</text>
<rect x="1206.3" y="2736.5" width="5.4" height="17.5" fill="#000"/>
<text transform="translate(1226.6 2758.8) rotate(-90)" font-size="52.5" class="b" text-anchor="end">platycerine</text>
<rect x="1266.9" y="2736.5" width="5.4" height="17.5" fill="#000"/>
<text transform="translate(1287.2 2758.8) rotate(-90)" font-size="52.5" class="b" text-anchor="end">berberine Cl</text>
<rect x="1327.5" y="2736.5" width="5.4" height="17.5" fill="#000"/>
<text transform="translate(1347.8 2758.8) rotate(-90)" font-size="52.5" class="b" text-anchor="end">canadine</text>
<rect x="1388.1" y="2736.5" width="5.4" height="17.5" fill="#000"/>
<text transform="translate(1408.4 2758.8) rotate(-90)" font-size="52.5" class="b" text-anchor="end">corydaline</text>
<rect x="1448.7" y="2736.5" width="5.4" height="17.5" fill="#000"/>
<text transform="translate(1469.0 2758.8) rotate(-90)" font-size="52.5" class="b" text-anchor="end">scoulerine</text>
<rect x="1509.3" y="2736.5" width="5.4" height="17.5" fill="#000"/>
<text transform="translate(1529.6 2758.8) rotate(-90)" font-size="52.5" class="b" text-anchor="end">sinactine</text>
<rect x="1569.9" y="2736.5" width="5.4" height="17.5" fill="#000"/>
<text transform="translate(1590.2 2758.8) rotate(-90)" font-size="52.5" class="b" text-anchor="end">stylopine</text>
<rect x="1630.5" y="2736.5" width="5.4" height="17.5" fill="#000"/>
<text transform="translate(1650.8 2758.8) rotate(-90)" font-size="52.5" class="b" text-anchor="end">tetrahydropalmatine</text>
<rect x="1691.1" y="2736.5" width="5.4" height="17.5" fill="#000"/>
<text transform="translate(1711.4 2758.8) rotate(-90)" font-size="52.5" class="b" text-anchor="end">allocryptopine</text>
<rect x="1751.7" y="2736.5" width="5.4" height="17.5" fill="#000"/>
<text transform="translate(1772.0 2758.8) rotate(-90)" font-size="52.5" class="b" text-anchor="end">corycavamine</text>
<rect x="1812.3" y="2736.5" width="5.4" height="17.5" fill="#000"/>
<text transform="translate(1832.6 2758.8) rotate(-90)" font-size="52.5" class="b" text-anchor="end">cryptopine</text>
<rect x="1872.9" y="2736.5" width="5.4" height="17.5" fill="#000"/>
<text transform="translate(1893.2 2758.8) rotate(-90)" font-size="52.5" class="b" text-anchor="end">protopine</text>
<rect x="1933.5" y="2736.5" width="5.4" height="17.5" fill="#000"/>
<text transform="translate(1953.8 2758.8) rotate(-90)" font-size="52.5" class="b" text-anchor="end">fumaricine</text>
<rect x="1994.1" y="2736.5" width="5.4" height="17.5" fill="#000"/>
<text transform="translate(2014.4 2758.8) rotate(-90)" font-size="52.5" class="b" text-anchor="end">parfumine</text>
<rect x="2054.7" y="2736.5" width="5.4" height="17.5" fill="#000"/>
<text transform="translate(2075.0 2758.8) rotate(-90)" font-size="52.5" class="b" text-anchor="end">DMSO</text>
<text x="287.9" y="2016.0" font-size="42.5" text-anchor="middle" class="h">#</text>
<text x="315.4" y="1897.0" font-size="42.5" text-anchor="middle" class="h">#</text>
<text x="349.0" y="2344.0" font-size="42.5" text-anchor="middle" class="h">#</text>
<text x="376.0" y="1904.0" font-size="42.5" text-anchor="middle" class="h">#</text>
<text x="436.7" y="1918.0" font-size="42.5" text-anchor="middle" class="h">#</text>
<text x="558.4" y="1925.0" font-size="42.5" text-anchor="middle" class="h">#</text>
<text x="591.0" y="2390.2" font-size="42.5" text-anchor="middle" class="h">#</text>
<text x="619.0" y="1906.3" font-size="42.5" text-anchor="middle" class="h">#</text>
<text x="653.1" y="2442.0" font-size="42.5" text-anchor="middle" class="h">#</text>
<text x="679.7" y="1917.0" font-size="42.5" text-anchor="middle" class="h">#</text>
<text x="713.8" y="2468.5" font-size="42.5" text-anchor="middle" class="h">#</text>
<text x="739.4" y="1901.6" font-size="42.5" text-anchor="middle" class="h">#</text>
<text x="773.0" y="2454.5" font-size="42.5" text-anchor="middle" class="h">#</text>
<text x="801.0" y="1905.4" font-size="42.5" text-anchor="middle" class="h">#</text>
<text x="861.7" y="1901.6" font-size="42.5" text-anchor="middle" class="h">#</text>
<text x="920.5" y="1899.3" font-size="42.5" text-anchor="middle" class="h">#</text>
<text x="1044.1" y="1925.9" font-size="42.5" text-anchor="middle" class="h">#</text>
<text x="1073.0" y="2348.6" font-size="42.5" text-anchor="middle" class="h">#</text>
<text x="1103.4" y="1918.0" font-size="42.5" text-anchor="middle" class="h">#</text>
<text x="1226.4" y="1911.9" font-size="42.5" text-anchor="middle" class="h">#</text>
<text x="1318.4" y="2425.6" font-size="42.5" text-anchor="middle" class="h">#</text>
<text x="1343.1" y="1949.2" font-size="42.5" text-anchor="middle" class="h">#</text>
<text x="1402.8" y="1934.3" font-size="42.5" text-anchor="middle" class="h">#</text>
<text x="1469.0" y="1921.7" font-size="42.5" text-anchor="middle" class="h">#</text>
<text x="1524.1" y="1927.3" font-size="42.5" text-anchor="middle" class="h">#</text>
<text x="1561.0" y="2447.5" font-size="42.5" text-anchor="middle" class="h">#</text>
<text x="1584.8" y="1922.6" font-size="42.5" text-anchor="middle" class="h">#</text>
<text x="1648.1" y="1926.9" font-size="42.5" text-anchor="middle" class="h">#</text>
<text x="1682.7" y="2485.6" font-size="42.5" text-anchor="middle" class="h">#</text>
<text x="1709.2" y="1901.6" font-size="42.5" text-anchor="middle" class="h">#</text>
<text x="1768.4" y="1896.0" font-size="42.5" text-anchor="middle" class="h">#</text>
<text x="1805.8" y="2428.9" font-size="42.5" text-anchor="middle" class="h">#</text>
<text x="1831.4" y="1899.3" font-size="42.5" text-anchor="middle" class="h">#</text>
<text x="1864.1" y="2453.6" font-size="42.5" text-anchor="middle" class="h">#</text>
<text x="1892.1" y="1908.6" font-size="42.5" text-anchor="middle" class="h">#</text>
<text x="1951.8" y="1913.3" font-size="42.5" text-anchor="middle" class="h">#</text>
<text x="2012.0" y="1940.4" font-size="42.5" text-anchor="middle" class="h">#</text>
<text x="494.6" y="2725.4" font-size="63" text-anchor="middle" class="h">*</text>
<text x="980.2" y="2725.4" font-size="63" text-anchor="middle" class="h">*</text>
<text x="1163.9" y="2727.3" font-size="63" text-anchor="middle" class="h">*</text>
<text x="1285.2" y="2725.4" font-size="63" text-anchor="middle" class="h">*</text>
<text x="1585.2" y="1983.1" font-size="63" text-anchor="middle" class="h">*</text>
<text x="2011.5" y="1999.9" font-size="63" text-anchor="middle" class="h">*</text>
<text x="2071.2" y="2722.2" font-size="63" text-anchor="middle" class="h">*</text>
<text transform="translate(123.5 2549.2) rotate(-90)" font-size="50.8" class="b"><tspan x="-0.2" dy="1.5" font-size="56.9">%</tspan><tspan x="59.3" dy="-1.5">of</tspan><tspan x="125.5">Fe</tspan><tspan x="187.0" dy="-22.5" font-size="41">2/3+</tspan><tspan x="283.3" dy="22.5">chelated</tspan></text>
<text transform="translate(39.6 1907.4) scale(0.968 1)" font-size="99.4">B</text>
<rect x="276.5" y="3410.5" width="23.2" height="707.5" fill="#d4d4d4" stroke="#707070" stroke-width="1.7"/>
<rect x="299.7" y="3303.7" width="25.5" height="814.3" fill="#000"/>
<rect x="420.2" y="4008.8" width="25.5" height="109.2" fill="#000"/>
<rect x="540.6" y="3492.2" width="25.5" height="625.8" fill="#000"/>
<rect x="661.1" y="3993.3" width="25.5" height="124.7" fill="#000"/>
<rect x="721.3" y="4061.8" width="25.5" height="56.2" fill="#000"/>
<rect x="818.6" y="4051.1" width="23.2" height="66.9" fill="#d4d4d4" stroke="#707070" stroke-width="1.7"/>
<rect x="841.8" y="3966.3" width="25.5" height="151.7" fill="#000"/>
<rect x="902.0" y="3310.3" width="25.5" height="807.7" fill="#000"/>
<rect x="1263.4" y="4115.7" width="25.5" height="2.3" fill="#000"/>
<rect x="1383.8" y="3705.2" width="25.5" height="412.8" fill="#000"/>
<rect x="1444.1" y="4029.2" width="25.5" height="88.8" fill="#000"/>
<rect x="1564.5" y="4052.0" width="25.5" height="66.0" fill="#000"/>
<rect x="1624.8" y="3987.5" width="25.5" height="130.5" fill="#000"/>
<rect x="1962.9" y="4116.4" width="23.2" height="1.6" fill="#d4d4d4" stroke="#707070" stroke-width="1.7"/>
<path d="M287.9 3409.8V3394.3M281.9 3394.3H293.9" stroke="#555" stroke-width="1.9" fill="none"/>
<path d="M348.1 4118.1V4101.0M342.1 4101.0H354.1" stroke="#555" stroke-width="1.9" fill="none"/>
<path d="M372.7 4118.1V4088.7M366.7 4088.7H378.7" stroke="#333" stroke-width="1.9" fill="none"/>
<path d="M408.4 4118.1V4109.9M402.4 4109.9H414.4" stroke="#555" stroke-width="1.9" fill="none"/>
<path d="M433.0 4008.8V3951.6M427.0 3951.6H439.0" stroke="#111" stroke-width="1.9" fill="none"/>
<path d="M468.6 4118.1V4109.9M462.6 4109.9H474.6" stroke="#555" stroke-width="1.9" fill="none"/>
<path d="M493.2 4118.1V4101.8M487.2 4101.8H499.2" stroke="#333" stroke-width="1.9" fill="none"/>
<path d="M528.8 4118.1V4104.2M522.8 4104.2H534.8" stroke="#555" stroke-width="1.9" fill="none"/>
<path d="M553.4 3492.2V3471.0M547.4 3471.0H559.4" stroke="#111" stroke-width="1.9" fill="none"/>
<path d="M589.0 4118.1V4087.1M583.0 4087.1H595.0" stroke="#555" stroke-width="1.9" fill="none"/>
<path d="M613.6 4118.1V4087.1M607.6 4087.1H619.6" stroke="#333" stroke-width="1.9" fill="none"/>
<path d="M649.3 4118.1V4094.4M643.3 4094.4H655.3" stroke="#555" stroke-width="1.9" fill="none"/>
<path d="M673.9 3993.3V3973.7M667.9 3973.7H679.9" stroke="#111" stroke-width="1.9" fill="none"/>
<path d="M709.5 4118.1V4101.8M703.5 4101.8H715.5" stroke="#555" stroke-width="1.9" fill="none"/>
<path d="M734.1 4061.8V4028.3M728.1 4028.3H740.1" stroke="#111" stroke-width="1.9" fill="none"/>
<path d="M769.7 4118.1V4109.1M763.7 4109.1H775.7" stroke="#555" stroke-width="1.9" fill="none"/>
<path d="M794.3 4118.1V4104.2M788.3 4104.2H800.3" stroke="#333" stroke-width="1.9" fill="none"/>
<path d="M830.0 4050.4V4021.8M824.0 4021.8H836.0" stroke="#555" stroke-width="1.9" fill="none"/>
<path d="M854.6 3966.3V3931.2M848.6 3931.2H860.6" stroke="#111" stroke-width="1.9" fill="none"/>
<path d="M890.2 4118.1V4097.7M884.2 4097.7H896.2" stroke="#555" stroke-width="1.9" fill="none"/>
<path d="M914.8 3310.3V3288.2M908.8 3288.2H920.8" stroke="#111" stroke-width="1.9" fill="none"/>
<path d="M950.4 4118.1V4100.1M944.4 4100.1H956.4" stroke="#555" stroke-width="1.9" fill="none"/>
<path d="M975.0 4118.1V4109.9M969.0 4109.9H981.0" stroke="#333" stroke-width="1.9" fill="none"/>
<path d="M1010.7 4118.1V4092.8M1004.7 4092.8H1016.7" stroke="#555" stroke-width="1.9" fill="none"/>
<path d="M1035.3 4118.1V4109.9M1029.3 4109.9H1041.3" stroke="#333" stroke-width="1.9" fill="none"/>
<path d="M1070.9 4118.1V4101.0M1064.9 4101.0H1076.9" stroke="#555" stroke-width="1.9" fill="none"/>
<path d="M1095.5 4118.1V4109.9M1089.5 4109.9H1101.5" stroke="#333" stroke-width="1.9" fill="none"/>
<path d="M1131.1 4118.1V4092.8M1125.1 4092.8H1137.1" stroke="#555" stroke-width="1.9" fill="none"/>
<path d="M1155.7 4118.1V4092.8M1149.7 4092.8H1161.7" stroke="#333" stroke-width="1.9" fill="none"/>
<path d="M1191.3 4118.1V4097.7M1185.3 4097.7H1197.3" stroke="#555" stroke-width="1.9" fill="none"/>
<path d="M1215.9 4118.1V4093.6M1209.9 4093.6H1221.9" stroke="#333" stroke-width="1.9" fill="none"/>
<path d="M1251.6 4118.1V4107.5M1245.6 4107.5H1257.6" stroke="#555" stroke-width="1.9" fill="none"/>
<path d="M1311.8 4118.1V4089.5M1305.8 4089.5H1317.8" stroke="#555" stroke-width="1.9" fill="none"/>
<path d="M1336.4 4118.1V4106.7M1330.4 4106.7H1342.4" stroke="#333" stroke-width="1.9" fill="none"/>
<path d="M1372.0 4118.1V4093.6M1366.0 4093.6H1378.0" stroke="#555" stroke-width="1.9" fill="none"/>
<path d="M1396.6 3705.2V3686.4M1390.6 3686.4H1402.6" stroke="#111" stroke-width="1.9" fill="none"/>
<path d="M1432.3 4118.1V4106.7M1426.3 4106.7H1438.3" stroke="#555" stroke-width="1.9" fill="none"/>
<path d="M1456.9 4029.2V3988.4M1450.9 3988.4H1462.9" stroke="#111" stroke-width="1.9" fill="none"/>
<path d="M1492.5 4118.1V4106.7M1486.5 4106.7H1498.5" stroke="#555" stroke-width="1.9" fill="none"/>
<path d="M1517.1 4118.1V4106.7M1511.1 4106.7H1523.1" stroke="#333" stroke-width="1.9" fill="none"/>
<path d="M1552.7 4118.1V4104.2M1546.7 4104.2H1558.7" stroke="#555" stroke-width="1.9" fill="none"/>
<path d="M1577.3 4052.0V3998.1M1571.3 3998.1H1583.3" stroke="#111" stroke-width="1.9" fill="none"/>
<path d="M1613.0 4118.1V4101.0M1607.0 4101.0H1619.0" stroke="#555" stroke-width="1.9" fill="none"/>
<path d="M1637.6 3987.5V3927.2M1631.6 3927.2H1643.6" stroke="#111" stroke-width="1.9" fill="none"/>
<path d="M1673.2 4118.1V4109.9M1667.2 4109.9H1679.2" stroke="#555" stroke-width="1.9" fill="none"/>
<path d="M1697.8 4118.1V4093.6M1691.8 4093.6H1703.8" stroke="#333" stroke-width="1.9" fill="none"/>
<path d="M1733.4 4118.1V4109.9M1727.4 4109.9H1739.4" stroke="#555" stroke-width="1.9" fill="none"/>
<path d="M1758.0 4118.1V4097.7M1752.0 4097.7H1764.0" stroke="#333" stroke-width="1.9" fill="none"/>
<path d="M1793.7 4118.1V4109.9M1787.7 4109.9H1799.7" stroke="#555" stroke-width="1.9" fill="none"/>
<path d="M1818.2 4118.1V4109.1M1812.2 4109.1H1824.2" stroke="#333" stroke-width="1.9" fill="none"/>
<path d="M1853.9 4118.1V4093.6M1847.9 4093.6H1859.9" stroke="#555" stroke-width="1.9" fill="none"/>
<path d="M1878.5 4118.1V4090.4M1872.5 4090.4H1884.5" stroke="#333" stroke-width="1.9" fill="none"/>
<path d="M1914.1 4118.1V4094.4M1908.1 4094.4H1920.1" stroke="#555" stroke-width="1.9" fill="none"/>
<path d="M1938.7 4118.1V4094.4M1932.7 4094.4H1944.7" stroke="#333" stroke-width="1.9" fill="none"/>
<path d="M1998.9 4118.1V4090.4M1992.9 4090.4H2004.9" stroke="#333" stroke-width="1.9" fill="none"/>
<path d="M2034.6 4118.1V4107.5M2028.6 4107.5H2040.6" stroke="#555" stroke-width="1.9" fill="none"/>
<path d="M2059.2 4118.1V4099.3M2053.2 4099.3H2065.2" stroke="#333" stroke-width="1.9" fill="none"/>
<rect x="256.1" y="3259.6" width="5.9" height="861.2" fill="#000"/>
<rect x="256.1" y="4115.2" width="1838.5" height="5.5" fill="#000"/>
<rect x="238.9" y="4115.4" width="20.1" height="5.4" fill="#000"/>
<text x="232.8" y="4133.5" font-size="47" class="b" text-anchor="end">0</text>
<rect x="238.9" y="3952.2" width="20.1" height="5.4" fill="#000"/>
<text x="232.8" y="3970.3" font-size="47" class="b" text-anchor="end">20</text>
<rect x="238.9" y="3789.0" width="20.1" height="5.4" fill="#000"/>
<text x="232.8" y="3807.1" font-size="47" class="b" text-anchor="end">40</text>
<rect x="238.9" y="3625.8" width="20.1" height="5.4" fill="#000"/>
<text x="232.8" y="3643.9" font-size="47" class="b" text-anchor="end">60</text>
<rect x="238.9" y="3462.6" width="20.1" height="5.4" fill="#000"/>
<text x="232.8" y="3480.7" font-size="47" class="b" text-anchor="end">80</text>
<rect x="238.9" y="3299.4" width="20.1" height="5.4" fill="#000"/>
<text x="232.8" y="3317.5" font-size="47" class="b" text-anchor="end">100</text>
<rect x="297.3" y="4118.0" width="5.4" height="16.8" fill="#000"/>
<text transform="translate(317.5 4139.7) rotate(-90)" font-size="52.3" class="b" text-anchor="end">deferoxamine</text>
<rect x="357.5" y="4118.0" width="5.4" height="16.8" fill="#000"/>
<text transform="translate(377.8 4139.7) rotate(-90)" font-size="52.3" class="b" text-anchor="end">chlidanthine</text>
<rect x="417.8" y="4118.0" width="5.4" height="16.8" fill="#000"/>
<text transform="translate(438.0 4139.7) rotate(-90)" font-size="52.3" class="b" text-anchor="end">galanthamine</text>
<rect x="478.0" y="4118.0" width="5.4" height="16.8" fill="#000"/>
<text transform="translate(498.2 4139.7) rotate(-90)" font-size="52.3" class="b" text-anchor="end">galanthamine HBr</text>
<rect x="538.2" y="4118.0" width="5.4" height="16.8" fill="#000"/>
<text transform="translate(558.4 4139.7) rotate(-90)" font-size="52.3" class="b" text-anchor="end">galanthine</text>
<rect x="598.4" y="4118.0" width="5.4" height="16.8" fill="#000"/>
<text transform="translate(618.7 4139.7) rotate(-90)" font-size="52.3" class="b" text-anchor="end">haemanthamine</text>
<rect x="658.7" y="4118.0" width="5.4" height="16.8" fill="#000"/>
<text transform="translate(678.9 4139.7) rotate(-90)" font-size="52.3" class="b" text-anchor="end">lycorine</text>
<rect x="718.9" y="4118.0" width="5.4" height="16.8" fill="#000"/>
<text transform="translate(739.1 4139.7) rotate(-90)" font-size="52.3" class="b" text-anchor="end">boldine</text>
<rect x="779.1" y="4118.0" width="5.4" height="16.8" fill="#000"/>
<text transform="translate(799.4 4139.7) rotate(-90)" font-size="52.3" class="b" text-anchor="end">bulbocapnine</text>
<rect x="839.4" y="4118.0" width="5.4" height="16.8" fill="#000"/>
<text transform="translate(859.6 4139.7) rotate(-90)" font-size="52.3" class="b" text-anchor="end">corydine</text>
<rect x="899.6" y="4118.0" width="5.4" height="16.8" fill="#000"/>
<text transform="translate(919.8 4139.7) rotate(-90)" font-size="52.3" class="b" text-anchor="end">glaucine</text>
<rect x="959.8" y="4118.0" width="5.4" height="16.8" fill="#000"/>
<text transform="translate(980.1 4139.7) rotate(-90)" font-size="52.3" class="b" text-anchor="end">isocorydine HCl</text>
<rect x="1020.1" y="4118.0" width="5.4" height="16.8" fill="#000"/>
<text transform="translate(1040.3 4139.7) rotate(-90)" font-size="52.3" class="b" text-anchor="end">sinoacutine</text>
<rect x="1080.3" y="4118.0" width="5.4" height="16.8" fill="#000"/>
<text transform="translate(1100.5 4139.7) rotate(-90)" font-size="52.3" class="b" text-anchor="end">eschscholtzine</text>
<rect x="1140.5" y="4118.0" width="5.4" height="16.8" fill="#000"/>
<text transform="translate(1160.7 4139.7) rotate(-90)" font-size="52.3" class="b" text-anchor="end">californidine I</text>
<rect x="1200.7" y="4118.0" width="5.4" height="16.8" fill="#000"/>
<text transform="translate(1221.0 4139.7) rotate(-90)" font-size="52.3" class="b" text-anchor="end">platycerine</text>
<rect x="1261.0" y="4118.0" width="5.4" height="16.8" fill="#000"/>
<text transform="translate(1281.2 4139.7) rotate(-90)" font-size="52.3" class="b" text-anchor="end">berberine Cl</text>
<rect x="1321.2" y="4118.0" width="5.4" height="16.8" fill="#000"/>
<text transform="translate(1341.4 4139.7) rotate(-90)" font-size="52.3" class="b" text-anchor="end">canadine</text>
<rect x="1381.4" y="4118.0" width="5.4" height="16.8" fill="#000"/>
<text transform="translate(1401.7 4139.7) rotate(-90)" font-size="52.3" class="b" text-anchor="end">corydaline</text>
<rect x="1441.7" y="4118.0" width="5.4" height="16.8" fill="#000"/>
<text transform="translate(1461.9 4139.7) rotate(-90)" font-size="52.3" class="b" text-anchor="end">scoulerine</text>
<rect x="1501.9" y="4118.0" width="5.4" height="16.8" fill="#000"/>
<text transform="translate(1522.1 4139.7) rotate(-90)" font-size="52.3" class="b" text-anchor="end">sinactine</text>
<rect x="1562.1" y="4118.0" width="5.4" height="16.8" fill="#000"/>
<text transform="translate(1582.4 4139.7) rotate(-90)" font-size="52.3" class="b" text-anchor="end">stylopine</text>
<rect x="1622.4" y="4118.0" width="5.4" height="16.8" fill="#000"/>
<text transform="translate(1642.6 4139.7) rotate(-90)" font-size="52.3" class="b" text-anchor="end">tetrahydropalmatine</text>
<rect x="1682.6" y="4118.0" width="5.4" height="16.8" fill="#000"/>
<text transform="translate(1702.8 4139.7) rotate(-90)" font-size="52.3" class="b" text-anchor="end">allocryptopine</text>
<rect x="1742.8" y="4118.0" width="5.4" height="16.8" fill="#000"/>
<text transform="translate(1763.0 4139.7) rotate(-90)" font-size="52.3" class="b" text-anchor="end">corycavamine</text>
<rect x="1803.0" y="4118.0" width="5.4" height="16.8" fill="#000"/>
<text transform="translate(1823.3 4139.7) rotate(-90)" font-size="52.3" class="b" text-anchor="end">cryptopine</text>
<rect x="1863.3" y="4118.0" width="5.4" height="16.8" fill="#000"/>
<text transform="translate(1883.5 4139.7) rotate(-90)" font-size="52.3" class="b" text-anchor="end">protopine</text>
<rect x="1923.5" y="4118.0" width="5.4" height="16.8" fill="#000"/>
<text transform="translate(1943.7 4139.7) rotate(-90)" font-size="52.3" class="b" text-anchor="end">fumaricine</text>
<rect x="1983.7" y="4118.0" width="5.4" height="16.8" fill="#000"/>
<text transform="translate(2004.0 4139.7) rotate(-90)" font-size="52.3" class="b" text-anchor="end">parfumine</text>
<rect x="2044.0" y="4118.0" width="5.4" height="16.8" fill="#000"/>
<text transform="translate(2064.2 4139.7) rotate(-90)" font-size="52.3" class="b" text-anchor="end">DMSO</text>
<text x="286.9" y="3383.7" font-size="42.5" text-anchor="middle" class="h">#</text>
<text x="314.5" y="3285.2" font-size="42.5" text-anchor="middle" class="h">#</text>
<text x="553.4" y="3452.3" font-size="42.5" text-anchor="middle" class="h">#</text>
<text x="854.7" y="3913.2" font-size="42.5" text-anchor="middle" class="h">#</text>
<text x="917.7" y="3268.9" font-size="42.5" text-anchor="middle" class="h">#</text>
<text x="1397.7" y="3666.9" font-size="42.5" text-anchor="middle" class="h">#</text>
<text x="1638.0" y="3909.5" font-size="42.5" text-anchor="middle" class="h">#</text>
<text transform="translate(123.5 3915.6) rotate(-90)" font-size="50.8" class="b"><tspan x="-0.2" dy="1.5" font-size="56.9">%</tspan><tspan x="59.3" dy="-1.5">of</tspan><tspan x="125.8">Fe</tspan><tspan x="187.2" dy="-22.5" font-size="40.5">2+</tspan><tspan x="248.5" dy="22.5">chelated</tspan></text>
<text transform="translate(38.3 3287.7) scale(0.903 1)" font-size="104.5">C</text>
</svg></body></html>
